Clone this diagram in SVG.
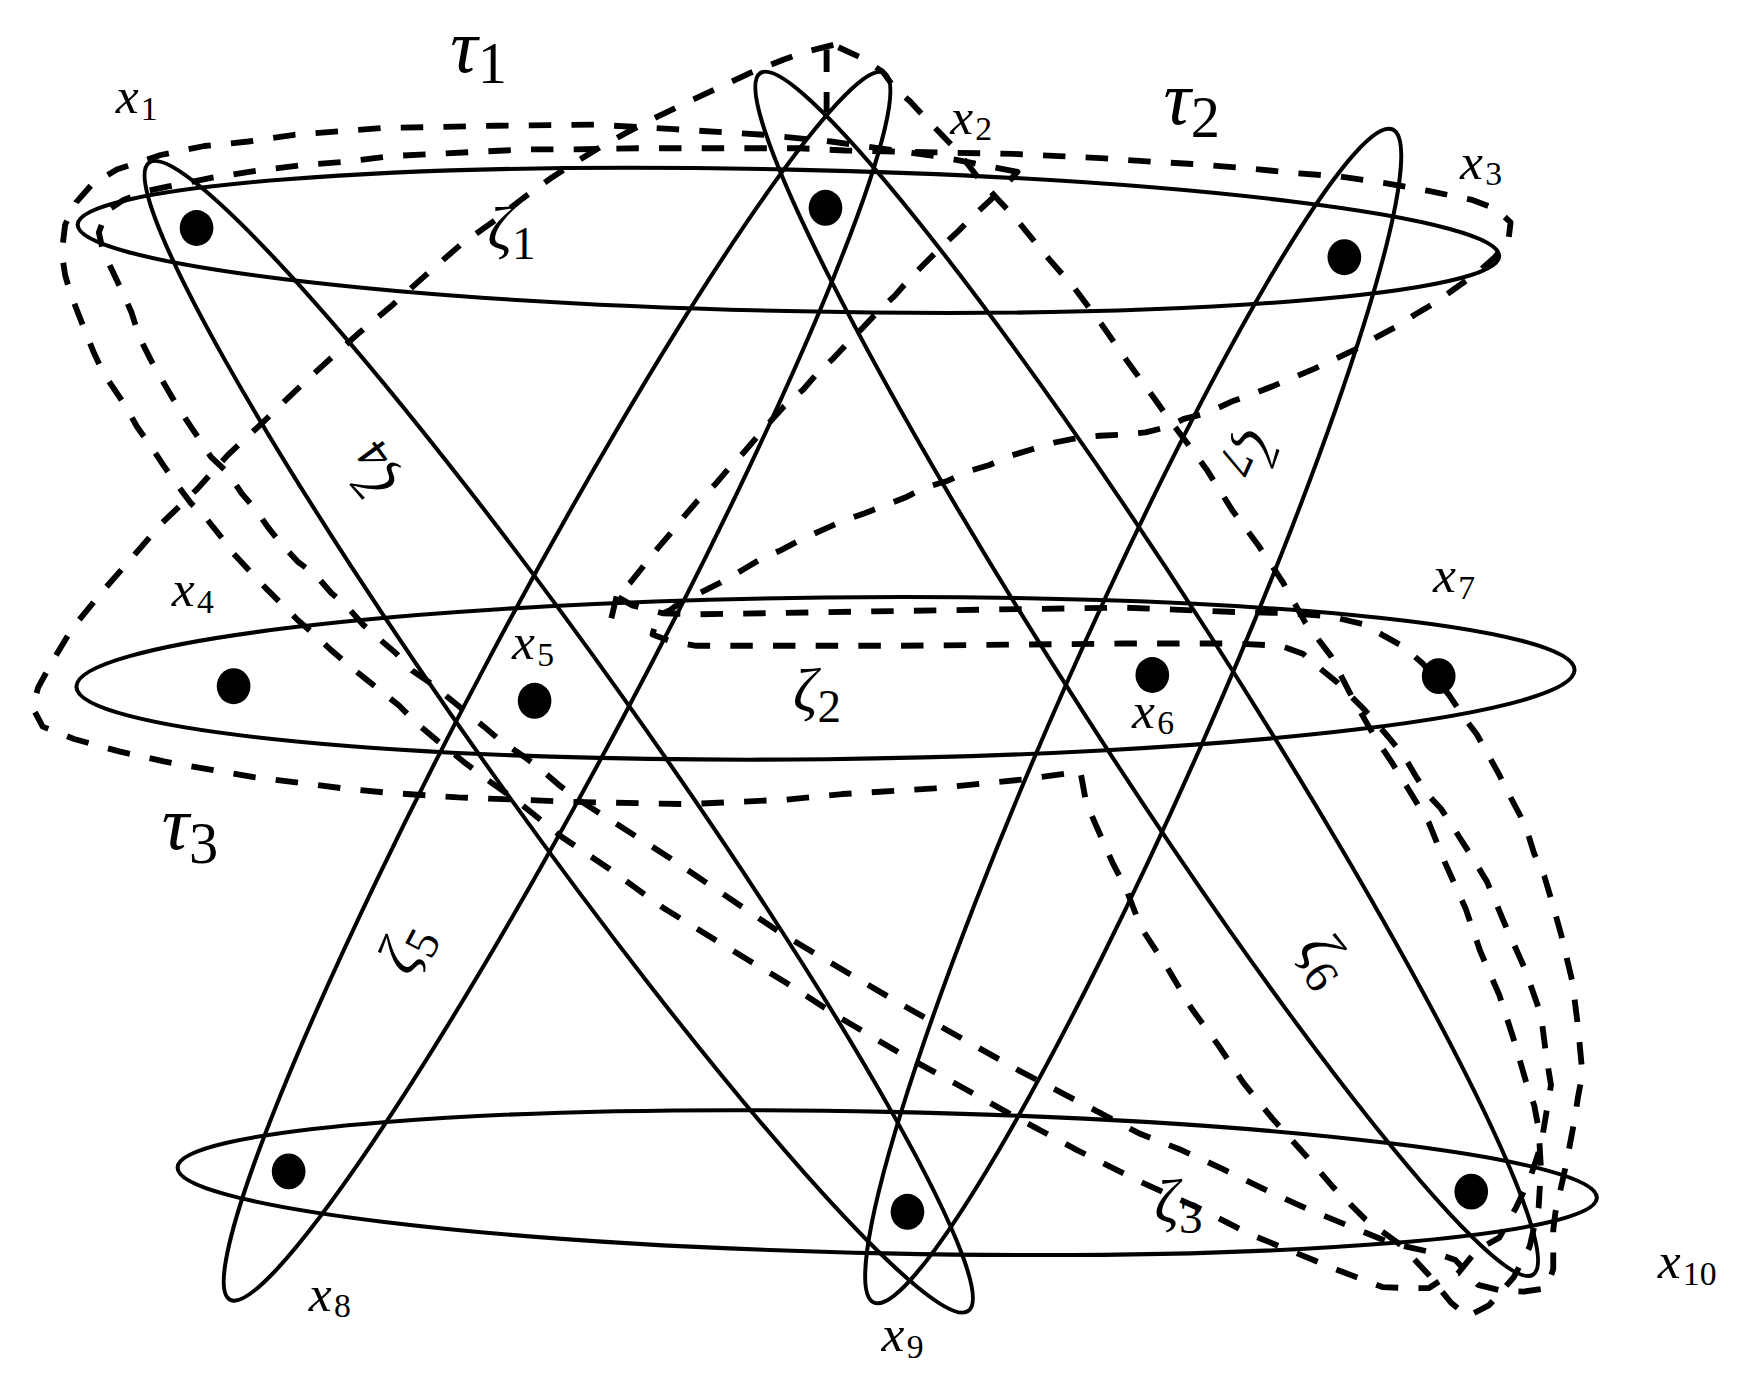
<svg xmlns="http://www.w3.org/2000/svg" width="1752" height="1388" viewBox="0 0 1752 1388">
<style>
.s{fill:none;stroke:#000;stroke-width:3.6}
.d{fill:none;stroke:#000;stroke-width:5.2;stroke-dasharray:20 18;stroke-linejoin:round}
.dot{fill:#000}
.t{font-family:"Liberation Serif","DejaVu Serif",serif;font-style:italic;fill:#000}
.n{font-style:normal}
</style>
<rect width="1752" height="1388" fill="#fff"/>
<g transform="scale(1.1231)">
<g id="connectors">
<path id="tauA" class="d" d="M 742,40 L 718,46 L 698,53 L 670,64 L 640,78 L 610,92 L 585,104 L 560,117 L 536,130 L 510,146 L 490,159 L 465,177 L 441,196 L 410,218 L 379,245 L 349,272 L 319,297 L 289,324 L 261,350 L 232,378 L 203,405 L 175,436 L 144,466 L 118,496 L 90,528 L 64,560 L 46,590 L 34,612 L 29,630 L 38,647 L 66,658 L 106,669 L 146,678 L 186,685 L 226,692 L 266,697 L 306,702 L 347,706 L 408,710 L 512,714 L 612,716 L 700,712 L 750,707 L 832,702 L 911,694 L 962,687 L 967,714 L 975,733 L 983,751 L 991,769 L 1002,790 L 1016,826 L 1039,861 L 1061,898 L 1085,931 L 1107,964 L 1133,996 L 1161,1027 L 1187,1057 L 1216,1086 L 1248,1109 L 1272,1135 L 1292,1160 L 1307,1172 L 1326,1162 L 1348,1137 L 1362,1110 L 1370,1075 L 1372,1040 L 1370,1005 L 1366,984 L 1359,964 L 1348,926 L 1335,886 L 1318,847 L 1305,809 L 1287,769 L 1272,732 L 1253,701 L 1240,680 L 1224,656 L 1205,623 L 1185,584 L 1162,554 L 1142,518 L 1120,485 L 1097,454 L 1075,419 L 1062,401 L 1040,372 L 1028,355 L 1004,322 L 981,289 L 957,257 L 930,226 L 904,194 L 889,178 L 870,157 L 853,135 L 824,105 L 810,90 L 797,79 L 786,64 L 768,52 Z"/>
<path id="tauA-spur" class="d" d="M 736,44 L 736,100"/>
<path id="tauB" class="d" d="M 906,153 L 880,148 L 840,140 L 790,133 L 740,126 L 680,120 L 600,115 L 530,111 L 440,112 L 340,114 L 301,117 L 262,120 L 221,126 L 182,130 L 143,138 L 104,151 L 82,164 L 68,180 L 58,200 L 55,225 L 58,245 L 63,262 L 70,280 L 77,298 L 84,315 L 92,332 L 102,347 L 112,362 L 122,380 L 134,397 L 146,415 L 158,432 L 170,448 L 184,462 L 196,477 L 208,493 L 222,508 L 236,523 L 250,537 L 265,552 L 280,565 L 295,579 L 310,592 L 325,604 L 340,616 L 355,628 L 370,643 L 390,660 L 415,680 L 435,695 L 459,712 L 500,745 L 543,774 L 590,808 L 645,842 L 700,875 L 746,905 L 800,937 L 851,965 L 905,995 L 959,1024 L 1015,1052 L 1070,1077 L 1113,1099 L 1155,1116 L 1194,1132 L 1231,1146 L 1253,1147 L 1272,1147 L 1283,1140 L 1298,1134 L 1315,1113 L 1335,1102 L 1350,1075 L 1362,1050 L 1372,1020 L 1377,990 L 1381,966 L 1377,942 L 1372,903 L 1357,861 L 1340,823 L 1324,785 L 1310,762 L 1296,740 L 1283,720 L 1270,706 L 1260,690 L 1250,673 L 1236,656 L 1215,632 L 1191,608 L 1174,594 L 1160,582 L 1140,575 L 1100,573 L 1000,573 L 800,575 L 620,575 L 597,571 L 581,565 L 583,558 L 585,549 L 597,543 L 605,537 L 623,528 L 641,519 L 657,510 L 677,498 L 695,490 L 712,481 L 732,472 L 750,464 L 770,457 L 788,450 L 806,443 L 824,434 L 844,428 L 861,420 L 881,414 L 899,406 L 919,400 L 939,394 L 959,390 L 979,388 L 999,387 L 1020,385 L 1040,380 L 1054,373 L 1074,368 L 1098,357 L 1115,351 L 1133,344 L 1152,336 L 1171,328 L 1188,320 L 1205,312 L 1224,301 L 1243,291 L 1260,280 L 1277,270 L 1294,258 L 1315,243 L 1330,230 L 1343,215 L 1345,198 L 1332,186 L 1311,178 L 1272,170 L 1233,163 L 1192,157 L 1152,154 L 1113,150 L 1062,146 L 1025,144 L 984,141 L 943,139 L 902,137 L 850,136 L 800,135 L 752,134 L 711,132 L 653,132 L 568,132 L 510,133 L 469,133 L 429,135 L 388,137 L 348,139 L 307,144 L 269,147 L 228,152 L 190,158 L 150,166 L 131,170 L 110,178 L 95,188 L 88,207 L 92,225 L 100,241 L 109,260 L 117,278 L 124,300 L 134,320 L 144,338 L 154,355 L 166,374 L 176,389 L 188,407 L 203,421 L 215,439 L 227,453 L 239,470 L 251,485 L 265,500 L 281,512 L 295,528 L 309,540 L 323,556 L 339,570 L 353,582 L 367,597 L 383,608 L 431,647 L 445,659 L 467,674 L 479,683 L 499,700 L 515,712 L 595,763 L 697,832 L 802,894 L 907,953 L 1014,1009 L 1052,1024 L 1089,1041 L 1126,1059 L 1163,1076 L 1202,1092 L 1239,1107 L 1279,1116 L 1296,1122 L 1316,1144 L 1336,1149 L 1357,1150 L 1377,1147 L 1383,1130 L 1383,1095 L 1385,1079 L 1394,1039 L 1402,997 L 1405,977 L 1409,956 L 1405,914 L 1400,874 L 1390,832 L 1381,800 L 1375,780 L 1366,760 L 1361,744 L 1354,727 L 1344,708 L 1335,690 L 1325,672 L 1315,654 L 1303,638 L 1291,620 L 1284,611 L 1267,591 L 1250,576 L 1232,566 L 1215,556 L 1185,549 L 1150,546 L 1102,545 L 1000,541 L 800,544 L 620,547 L 590,546 L 563,539 L 549,531 L 561,519 L 573,504 L 585,489 L 597,475 L 609,460 L 621,446 L 637,431 L 649,417 L 663,402 L 675,388 L 687,374 L 698,362 L 715,347 L 728,332 L 742,319 L 756,304 L 769,291 L 783,276 L 797,263 L 810,248 L 824,234 L 838,220 L 853,206 L 866,193 L 882,178 L 895,165 Z"/>
<path id="tauB-spur" class="d" d="M 549,531 L 543,556"/>
</g>
<g id="zeta1"><ellipse class="s" cx="702" cy="214" rx="633" ry="63" transform="rotate(1.27 702 214)"/></g>
<g id="zeta2"><ellipse class="s" cx="735" cy="604" rx="667" ry="72" transform="rotate(-0.64 735 604)"/></g>
<g id="zeta3"><ellipse class="s" cx="790" cy="1053" rx="632" ry="63" transform="rotate(1.22 790 1053)"/></g>
<g id="zeta4"><ellipse class="s" cx="497.5" cy="656" rx="628" ry="67" transform="rotate(54.5 497.5 656)"/></g>
<g id="zeta5"><ellipse class="s" cx="496" cy="611" rx="619" ry="65" transform="rotate(-61.94 496 611)"/></g>
<g id="zeta6"><ellipse class="s" cx="1021" cy="600" rx="636" ry="66" transform="rotate(57.26 1021 600)"/></g>
<g id="zeta7"><ellipse class="s" cx="1009" cy="637.5" rx="571" ry="66" transform="rotate(-66.15 1009 637.5)"/></g>
<g id="x1"><ellipse class="dot" cx="175" cy="203" rx="15" ry="16"/><text class="t" x="103" y="101" font-size="46">x<tspan class="n" font-size="30" dx="2" dy="6">1</tspan></text></g>
<g id="x2"><ellipse class="dot" cx="735" cy="185" rx="15" ry="16"/><text class="t" x="846" y="119" font-size="46">x<tspan class="n" font-size="30" dx="2" dy="6">2</tspan></text></g>
<g id="x3"><ellipse class="dot" cx="1197" cy="229" rx="15" ry="16"/><text class="t" x="1300" y="159" font-size="46">x<tspan class="n" font-size="30" dx="2" dy="6">3</tspan></text></g>
<g id="x4"><ellipse class="dot" cx="208" cy="611" rx="15" ry="16"/><text class="t" x="153" y="540" font-size="46">x<tspan class="n" font-size="30" dx="2" dy="6">4</tspan></text></g>
<g id="x5"><ellipse class="dot" cx="476" cy="624" rx="15" ry="16"/><text class="t" x="456" y="587" font-size="46">x<tspan class="n" font-size="30" dx="2" dy="6">5</tspan></text></g>
<g id="x6"><ellipse class="dot" cx="1026" cy="601" rx="15" ry="16"/><text class="t" x="1008" y="648" font-size="46">x<tspan class="n" font-size="30" dx="2" dy="6">6</tspan></text></g>
<g id="x7"><ellipse class="dot" cx="1281" cy="602" rx="15" ry="16"/><text class="t" x="1276" y="527" font-size="46">x<tspan class="n" font-size="30" dx="2" dy="6">7</tspan></text></g>
<g id="x8"><ellipse class="dot" cx="257" cy="1043" rx="15" ry="16"/><text class="t" x="275" y="1167" font-size="46">x<tspan class="n" font-size="30" dx="2" dy="6">8</tspan></text></g>
<g id="x9"><ellipse class="dot" cx="808" cy="1079" rx="15" ry="16"/><text class="t" x="785" y="1203" font-size="46">x<tspan class="n" font-size="30" dx="2" dy="6">9</tspan></text></g>
<g id="x10"><ellipse class="dot" cx="1310" cy="1061" rx="15" ry="16"/><text class="t" x="1476" y="1138" font-size="46">x<tspan class="n" font-size="30" dx="2" dy="6">10</tspan></text></g>
<g id="labels">
<text class="t" x="401" y="64" font-size="68">τ<tspan class="n" font-size="52" dy="10">1</tspan></text>
<text class="t" x="1036" y="110" font-size="68">τ<tspan class="n" font-size="52" dy="12">2</tspan></text>
<text class="t" x="144" y="756" font-size="68">τ<tspan class="n" font-size="52" dy="12">3</tspan></text>
<text class="t" x="434" y="222" font-size="54">ζ<tspan class="n" font-size="42" dy="9">1</tspan></text>
<text class="t" x="706" y="633" font-size="54">ζ<tspan class="n" font-size="42" dy="10">2</tspan></text>
<text class="t" x="1028" y="1088" font-size="54">ζ<tspan class="n" font-size="42" dy="10">3</tspan></text>
<text class="t" font-size="54" text-anchor="middle" transform="translate(332 420) rotate(234)" y="14">ζ<tspan class="n" font-size="42" dy="9">4</tspan></text>
<text class="t" font-size="54" text-anchor="middle" transform="translate(363 845) rotate(-62)" y="14">ζ<tspan class="n" font-size="42" dy="9">5</tspan></text>
<text class="t" font-size="54" text-anchor="middle" transform="translate(1178 855) rotate(57)" y="14">ζ<tspan class="n" font-size="42" dy="9">6</tspan></text>
<text class="t" font-size="54" text-anchor="middle" transform="translate(1113 405) rotate(114)" y="14">ζ<tspan class="n" font-size="42" dy="9">7</tspan></text>
</g>
</g>
</svg>
